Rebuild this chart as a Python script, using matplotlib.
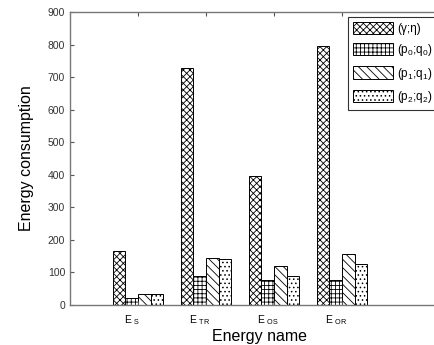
import numpy as np
import matplotlib.pyplot as plt
from matplotlib.transforms import ScaledTranslation

plt.rcParams['font.family'] = ['Liberation Sans', 'DejaVu Sans']
plt.rcParams['mathtext.fontset'] = 'custom'
plt.rcParams['mathtext.rm'] = 'Liberation Sans'
plt.rcParams['mathtext.it'] = 'Liberation Sans'
plt.rcParams['hatch.linewidth'] = 0.6

groups = ['E $_{S}$', 'E $_{TR}$', 'E $_{OS}$', 'E $_{OR}$']
series = ['(γ;η)', '(p$_0$;q$_0$)', '(p$_1$;q$_1$)', '(p$_2$;q$_2$)']
gamma_eta = [166, 728, 397, 795]
p0q0 = [20, 88, 76, 78]
p1q1 = [33, 145, 120, 158]
p2q2 = [33, 142, 88, 127]
hatches = ['xxxxx', '++++', '\\\\\\\\', '....']

fig = plt.figure(figsize=(4.35, 3.45), dpi=100)
ax = fig.add_axes([70/435, 40/345, 380/435, 293/345])

x = np.arange(1, len(groups) + 1)
w = 0.185
for i, vals in enumerate([gamma_eta, p0q0, p1q1, p2q2]):
    ax.bar(x + (i - 1.5) * w, vals, w, facecolor='white', edgecolor='black',
           linewidth=0.7, hatch=hatches[i], label=series[i])

ax.set_xlim(0, 380/68)
ax.set_ylim(0, 900)
ax.set_yticks(range(0, 901, 100))
ax.set_xticks(x)
ax.set_xticklabels(groups, fontsize=7.5)
ax.tick_params(axis='y', direction='in', labelsize=7.5, labelcolor='#333333', length=3, color='#555555')
ax.tick_params(axis='x', direction='in', length=3, pad=6, top=True, color='#555555')
for lab in ax.get_xticklabels():
    lab.set_transform(lab.get_transform() + ScaledTranslation(-6/100, 0, fig.dpi_scale_trans))
for s in ax.spines.values():
    s.set_color('#777777')
    s.set_linewidth(1.0)

ax.set_ylabel('Energy consumption', fontsize=11.5, labelpad=10)
ax.set_xlabel('Energy name', fontsize=11.5, labelpad=1)

leg = ax.legend(loc='upper left', bbox_to_anchor=(348/435, 1 - 17/345), bbox_transform=fig.transFigure,
                fontsize=8.5, frameon=True, fancybox=False, edgecolor='black',
                handlelength=3.4, handleheight=1.2, borderpad=0.45, labelspacing=0.6,
                handletextpad=0.3, borderaxespad=0)
leg.get_frame().set_linewidth(0.8)

fig.savefig('out.png', dpi=100)
